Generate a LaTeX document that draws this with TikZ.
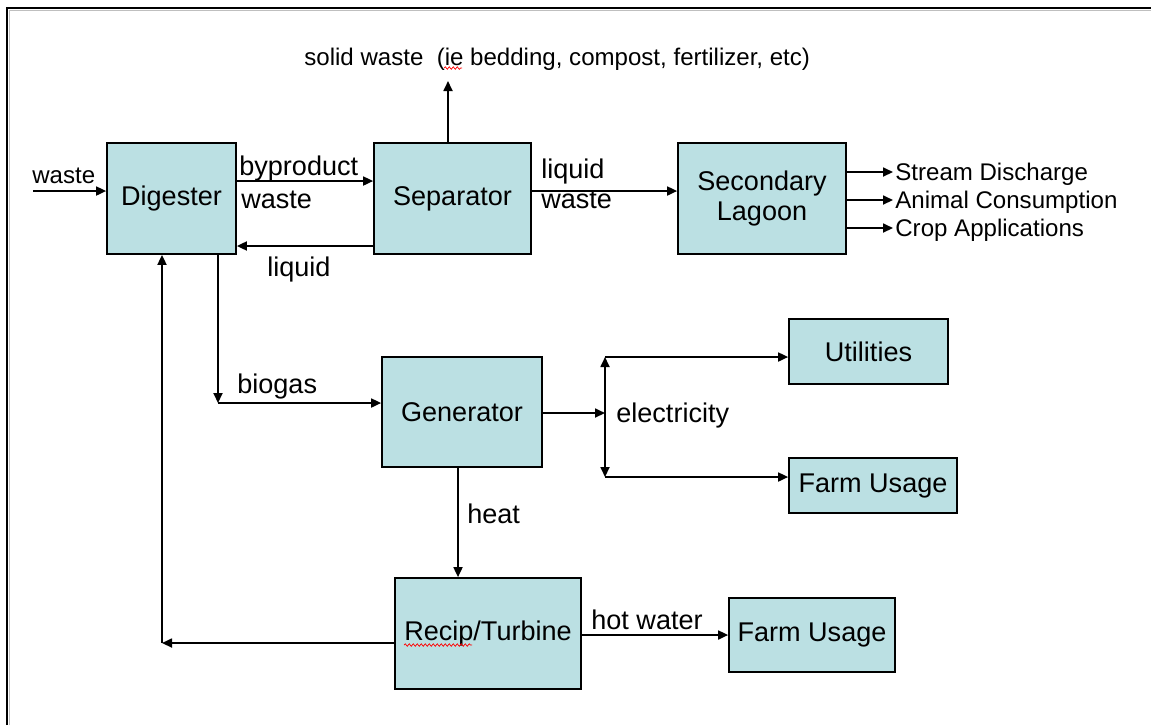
\documentclass[tikz,border=0pt]{standalone}
\usepackage{fontspec}
\setmainfont{Liberation Sans}
\usepackage{xcolor}
\usetikzlibrary{arrows.meta, positioning, calc, decorations.pathmorphing}
\definecolor{pptteal}{RGB}{187,224,227}
\newcommand{\boxfont}{\fontsize{15.4}{17.6}\selectfont}
\newcommand{\smalllbl}{\fontsize{13.7}{16}\selectfont}
\tikzset{
  box/.style={draw, line width=1pt, fill=pptteal, inner sep=0pt, font=\boxfont, align=center},
  flow/.style={line width=1pt, -{Triangle[length=0.2cm,width=0.18cm]}},
  flowboth/.style={line width=1pt, {Triangle[length=0.2cm,width=0.18cm]}-{Triangle[length=0.2cm,width=0.18cm]}},
  lbl/.style={inner sep=0pt, anchor=base west, font=\boxfont},
  lblsmall/.style={lbl, font=\smalllbl},
  typo/.style={red, line width=0.4pt, decorate, decoration={snake, amplitude=0.025cm, segment length=0.08cm}}
}

\begin{document}
\begin{tikzpicture}[x=0.02cm, y=-0.02cm]
\useasboundingbox (0,0) rectangle (1151,725);

% Frame
\draw[black!25, line width=1pt] (9.5,725) -- (9.5,10.5) -- (1151,10.5);
\draw[line width=1.5pt] (7,725) -- (7,8) -- (1151,8);

% Processing units
\node[box, minimum width=2.58cm, minimum height=2.22cm] (dig) at (171.5,198.5) {Digester};
\node[box, minimum width=3.14cm, minimum height=2.22cm] (sep) at (452.5,198.5) {Separator};
\node[box, minimum width=3.36cm, minimum height=2.22cm] (lagoon) at (762,198.5) {Secondary\\Lagoon};
\node[box, minimum width=3.2cm, minimum height=2.2cm] (gen) at (462,412) {Generator};
\node[box, minimum width=3.72cm, minimum height=2.22cm] (recip) at (488,633.5) {Recip/Turbine};

% Consumers
\node[box, minimum width=3.18cm, minimum height=1.3cm] (util) at (868.5,351.5) {Utilities};
\node[box, minimum width=3.36cm, minimum height=1.1cm] (farmelec) at (873,485.5) {Farm Usage};
\node[box, minimum width=3.32cm, minimum height=1.48cm] (farmwater) at (812,635) {Farm Usage};

% Free ends and corners
\coordinate (wastein) at (33,191);
\coordinate (solidtip) at (448,81);
\coordinate (bgc) at (218,403);
\coordinate (retc) at (162,643);
\coordinate (esplit) at (605,413);
\coordinate (etop) at (605,357);
\coordinate (ebot) at (605,477);
\coordinate (out1) at (893,172);
\coordinate (out2) at (893,200);
\coordinate (out3) at (893,228);

% Arrows
\draw[flow] (wastein) -- (dig.west |- wastein);
\draw[flow] ([yshift=0.35cm]dig.east) -- ([yshift=0.35cm]sep.west);
\draw[flow] ([yshift=-0.95cm]sep.west) -- ([yshift=-0.95cm]dig.east);
\draw[flow] ([xshift=-0.09cm]sep.north) -- (solidtip);
\draw[flow] ([yshift=0.15cm]sep.east) -- ([yshift=0.15cm]lagoon.west);
\draw[flow] (lagoon.east |- out1) -- (out1);
\draw[flow] (lagoon.east |- out2) -- (out2);
\draw[flow] (lagoon.east |- out3) -- (out3);
\draw[flow] (dig.south -| bgc) -- (bgc);
\draw[flow] (bgc) -- (gen.west |- bgc);
\draw[flow] (gen.east |- esplit) -- (esplit);
\draw[flowboth] (etop) -- (ebot);
\draw[flow] (etop) -- (util.west |- etop);
\draw[flow] (ebot) -- (farmelec.west |- ebot);
\draw[flow] ([xshift=-0.08cm]gen.south) -- ([xshift=-0.08cm]gen.south |- recip.north);
\draw[flow] (recip.east |- farmwater.west) -- (farmwater.west);
\draw[flow] (recip.west |- retc) -- (retc);
\draw[flow] (retc) -- (dig.south -| retc);

% Labels
\node[lblsmall] (lwaste) at (32,183) {waste};
\node[lbl] (lbyp) at (239,175) {byproduct};
\node[lbl] (lbypw) at (241,208) {waste};
\node[lbl] (lliq) at (267,276) {liquid};
\node[lblsmall] (lsolid) at (304,65) {solid waste\ \ (ie bedding, compost, fertilizer, etc)};
\node[lbl] (lliqw) at (541,178) {liquid};
\node[lbl] (lliqw2) at (541,208) {waste};
\node[lblsmall] (lstream) at (895,180.5) {Stream Discharge};
\node[lblsmall] (lanimal) at (895,208.5) {Animal Consumption};
\node[lblsmall] (lcrop) at (895,236.5) {Crop Applications};
\node[lbl] (lbiogas) at (237,393) {biogas};
\node[lbl] (lelec) at (616,422) {electricity};
\node[lbl] (lheat) at (467,523) {heat};
\node[lbl] (lhot) at (591,629) {hot water};

% Spelling marks
\draw[typo] (444,68) -- (462,68);
\draw[typo] (404,645) -- (472,645);
\end{tikzpicture}
\end{document}
